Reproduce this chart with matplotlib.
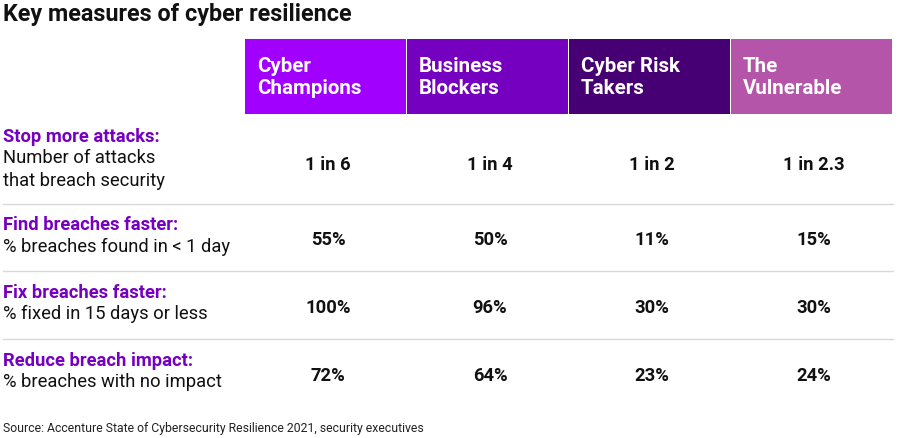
import matplotlib
matplotlib.use("Agg")
import matplotlib.pyplot as plt
from matplotlib.patches import Rectangle

title = "Key measures of cyber resilience"
groups = ["Cyber\nChampions", "Business\nBlockers", "Cyber Risk\nTakers", "The\nVulnerable"]
group_colors = ["#a100ff", "#7500c0", "#460073", "#b455aa"]
measures = ["Stop more attacks:", "Find breaches faster:", "Fix breaches faster:", "Reduce breach impact:"]
descriptions = ["Number of attacks\nthat breach security", "% breaches found in < 1 day",
                "% fixed in 15 days or less", "% breaches with no impact"]
values = [
    ["1 in 6", "1 in 4", "1 in 2", "1 in 2.3"],
    ["55%", "50%", "11%", "15%"],
    ["100%", "96%", "30%", "30%"],
    ["72%", "64%", "23%", "24%"],
]
source = "Source: Accenture State of Cybersecurity Resilience 2021, security executives"

fig = plt.figure(figsize=(9, 4.39), dpi=100)
ax = fig.add_axes([0, 0, 1, 1])
ax.set_xlim(0, 900); ax.set_ylim(439, 0); ax.axis("off")
font = "Roboto"

ax.text(3, 14, title, fontsize=16.8, fontweight="bold", family=font, va="center", ha="left", color="#111")

col_left = 245; col_w = 162
for i, (g, c) in enumerate(zip(groups, group_colors)):
    x0 = col_left + i * col_w
    ax.add_patch(Rectangle((x0, 40), col_w - 1, 75, color=c, lw=0))
    ax.text(x0 + 12, 77, g, fontsize=14.8, fontweight="bold", family=font, color="white",
            va="center", ha="left", linespacing=1.2)

row_bounds = [(120, 205), (205, 272), (272, 340), (340, 408)]
for r, ((y0, y1), m, d) in enumerate(zip(row_bounds, measures, descriptions)):
    if r > 0:
        ax.plot([3, 893], [y0, y0], color="#d9d9d9", lw=1)
    yc = (y0 + y1) / 2
    nlines = d.count("\n") + 1
    top = yc - (nlines + 1) * 12
    ax.text(3, top + 11, m, fontsize=13.2, fontweight="bold", family=font, color="#7500c0",
            va="center", ha="left")
    ax.text(3, top + 23, d, fontsize=13.2, family=font, color="#111", va="top", ha="left",
            linespacing=1.3)
    for i, v in enumerate(values[r]):
        ax.text(col_left + i * col_w + col_w / 2 + 2, yc + (3 if r == 0 else 2), v, fontsize=13.2,
                fontweight="bold", family=font, color="#111", va="center", ha="center")

ax.text(3, 429, source, fontsize=8.8, family=font, color="#222", va="center", ha="left")
fig.savefig("out.png", dpi=100)
